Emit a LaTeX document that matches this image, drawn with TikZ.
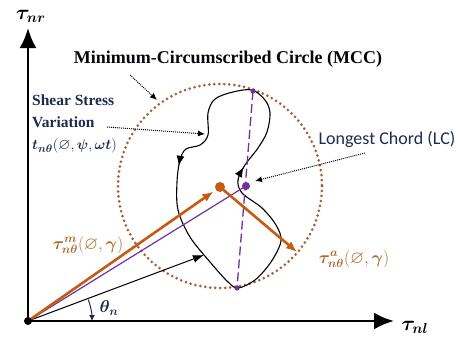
\documentclass[tikz,border=0pt]{standalone}
\usepackage{amsmath,amssymb,bm}
\usepackage{fontspec}
\setmainfont{Liberation Serif}
\newfontfamily\chordfont{Carlito}
\usepackage{xcolor}
\usetikzlibrary{arrows.meta,decorations.markings}

\definecolor{meancol}{RGB}{197,90,17}
\definecolor{labcol}{RGB}{176,102,44}
\definecolor{mcccol}{RGB}{165,96,60}
\definecolor{chordcol}{RGB}{112,48,160}
\definecolor{navy}{RGB}{31,42,78}

\begin{document}
\begin{tikzpicture}[x=1pt,y=-1pt,
  axis/.style={line width=2.6pt,-{Latex[length=20pt,width=17pt]}},
  vec/.style={line width=2.6pt,meancol,-{Latex[length=11pt,width=9pt]}},
  pointer/.style={densely dotted,line width=1pt,-{Latex[length=7pt,width=6pt]}},
  mcc/.style={mcccol,line width=3pt,line cap=round,dash pattern=on 0pt off 5pt},
  loopcurve/.style={line width=1.1pt,postaction={decorate},
    decoration={markings,
      mark=at position 0.2 with {\arrow{Latex[length=10pt,width=8pt]}},
      mark=at position 0.785 with {\arrow{Latex[length=10pt,width=8pt]}}}},
  lbl/.style={inner sep=0pt,text=navy,font=\fontsize{15.5}{22}\selectfont\bfseries},
  vlbl/.style={inner sep=0pt,text=labcol,font=\fontsize{18}{20}\selectfont}]

\useasboundingbox (0,0) rectangle (459,343);

% points of the construction
\coordinate (O) at (28,321);
\coordinate (C) at (220,187);
\coordinate (A) at (253,91);
\coordinate (B) at (237,288);
\coordinate (M) at (246,186);
\coordinate (Ta) at (297,252);
\coordinate (P) at (204,255);
\coordinate (ynr) at (28,28);
\coordinate (xnl) at (394,321);

% circle and loading path
\draw[mcc] (220,186) circle[radius=102];
\draw[loopcurve] plot[smooth cycle,tension=0.55] coordinates {
  (252,90) (233,92) (215,99) (208,113) (208,135) (200,145) (186,149) (180,160)
  (177,182) (178,210) (190,237) (210,262) (228,282) (238,288) (255,280)
  (271,262) (281,241) (276,225) (262,208) (242,193) (238,180) (245,165)
  (258,148) (267,132) (270,113) (265,100)};

% longest chord
\draw[chordcol,line width=1.3pt,dash pattern=on 9pt off 4pt] (A) -- (B);
\fill[chordcol] (A) circle[radius=2.6] (B) circle[radius=2.6];

% vectors
\draw[chordcol,line width=1.2pt] (O) -- (M);
\draw[line width=1pt,-{Latex[length=11pt,width=8pt]}] (O) -- (P);
\draw[vec,shorten >=8pt] (O) -- (C);
\draw[vec] (C) -- (Ta);
\fill[meancol] (C) circle[radius=5];
\fill[chordcol] (M) circle[radius=4];

% axes
\draw[axis] (O) -- (ynr);
\draw[axis] (O) -- (xnl);
\fill (O) circle[radius=4];
\draw[line width=1pt,navy,-{Latex[length=6pt,width=6pt]}] (O) ++(-19.5:64) arc[start angle=-19.5,end angle=0,radius=64];

% labels
\node[inner sep=0pt,font=\fontsize{22}{24}\selectfont] (tnr) at (31,16) {$\bm{\tau_{nr}}$};
\node[inner sep=0pt,font=\fontsize{22}{24}\selectfont] (tnl) at (415,327) {$\bm{\tau_{nl}}$};
\node[inner sep=0pt,text=navy,font=\fontsize{18}{20}\selectfont] (theta) at (109,308) {$\bm{\theta_n}$};
\node[lbl,text=black!85!navy,font=\fontsize{18}{20}\selectfont\bfseries] (mcclabel) at (228,59) {Minimum-Circumscribed Circle (MCC)};
\node[lbl,anchor=west,align=left] (shear) at (32,124) {Shear Stress\\Variation\\$\bm{t_{n\theta}}(\varnothing,\bm{\psi},\bm{\omega t})$};
\node[inner sep=0pt,text=navy,font=\fontsize{18}{20}\selectfont\chordfont] (lclabel) at (387,139) {Longest Chord (LC)};
\node[vlbl] (mlabel) at (88,245) {$\bm{\tau^{m}_{n\theta}}(\varnothing,\bm{\gamma})$};
\node[vlbl] (alabel) at (354,259) {$\bm{\tau^{a}_{n\theta}}(\varnothing,\bm{\gamma})$};

% pointers
\coordinate (mccfrom) at (130,75);
\coordinate (mccto) at (157,100);
\coordinate (varfrom) at (107,127);
\coordinate (varto) at (205,134);
\coordinate (lcfrom) at (365,153);
\coordinate (lcto) at (255,181);
\draw[pointer] (mccfrom) -- (mccto);
\draw[pointer] (varfrom) -- (varto);
\draw[pointer] (lcfrom) -- (lcto);
\end{tikzpicture}
\end{document}
